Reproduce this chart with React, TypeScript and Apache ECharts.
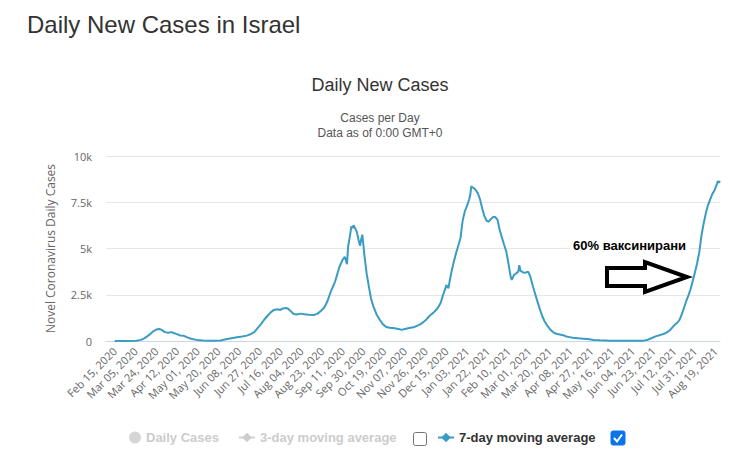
import React, { useEffect, useRef } from "react";
import * as echarts from "echarts";

// x positions are days since Feb 15, 2020 (first data day)
const PAD_DAYS = 8; // empty categories before the first data day
const LAST_DAY = 555; // Aug 23, 2021
const MONTHS = ["Jan", "Feb", "Mar", "Apr", "May", "Jun", "Jul", "Aug", "Sep", "Oct", "Nov", "Dec"];

const xTickLabels = [
  "Feb 15, 2020", "Mar 05, 2020", "Mar 24, 2020", "Apr 12, 2020", "May 01, 2020", "May 20, 2020",
  "Jun 08, 2020", "Jun 27, 2020", "Jul 16, 2020", "Aug 04, 2020", "Aug 23, 2020", "Sep 11, 2020",
  "Sep 30, 2020", "Oct 19, 2020", "Nov 07, 2020", "Nov 26, 2020", "Dec 15, 2020", "Jan 03, 2021",
  "Jan 22, 2021", "Feb 10, 2021", "Mar 01, 2021", "Mar 20, 2021", "Apr 08, 2021", "Apr 27, 2021",
  "May 16, 2021", "Jun 04, 2021", "Jun 23, 2021", "Jul 12, 2021", "Jul 31, 2021", "Aug 19, 2021",
];

const yTickValues = [0, 2500, 5000, 7500, 10000];
const yTickLabels = ["0", "2.5k", "5k", "7.5k", "10k"];

// 7-day moving average (day offset, cases)
const avgDays = [
  0, 10, 20, 24, 27, 30, 33, 36, 39, 41, 43, 46, 49, 52, 54, 57, 60, 63, 66, 70, 75, 81, 90, 97,
  102, 107, 112, 117, 121, 125, 128, 131, 134, 137, 140, 143, 146, 149, 152, 154, 157, 159, 161,
  164, 167, 170, 174, 178, 183, 186, 189, 192, 195, 198, 202, 206, 209, 211, 213, 214, 216, 217,
  218, 219, 220, 222, 224, 225, 226, 227, 228, 229, 231, 233, 235, 237, 240, 243, 246, 249, 252,
  255, 258, 261, 263, 266, 270, 274, 277, 280, 283, 286, 289, 292, 295, 297, 299, 301, 303, 304,
  305, 306, 307, 309, 311, 313, 315, 317, 319, 321, 323, 325, 326, 327, 328, 330, 333, 335, 337,
  339, 341, 343, 345, 347, 349, 351, 353, 355, 357, 359, 361, 363, 364, 366, 368, 370, 371, 372,
  374, 376, 379, 381, 383, 385, 387, 390, 392, 394, 397, 400, 403, 406, 409, 412, 414, 417, 420,
  425, 430, 435, 439, 445, 454, 465, 475, 485, 488, 492, 496, 500, 503, 506, 509, 512, 514, 516,
  518, 520, 522, 524, 526, 528, 530, 532, 534, 536, 538, 540, 542, 544, 546, 548, 550, 552, 553,
  554, 555,
];
const avgValues = [
  0, 2, 15, 60, 140, 260, 400, 550, 640, 650, 600, 480, 450, 480, 430, 370, 300, 290, 210, 120, 60,
  30, 15, 30, 90, 150, 200, 240, 290, 380, 480, 700, 900, 1150, 1350, 1550, 1680, 1720, 1680, 1760,
  1780, 1740, 1640, 1460, 1430, 1480, 1440, 1420, 1410, 1480, 1620, 1800, 2150, 2650, 3200, 4000,
  4400, 4550, 4150, 5100, 5800, 6200, 6100, 6250, 6150, 5900, 5350, 5150, 5500, 5750, 5200, 4600,
  3650, 2950, 2300, 1900, 1450, 1150, 900, 760, 720, 700, 680, 640, 600, 650, 700, 740, 820, 900,
  1020, 1180, 1380, 1520, 1700, 1860, 2080, 2480, 2800, 3020, 2950, 2850, 3200, 3800, 4300, 4750,
  5150, 5550, 6500, 7000, 7300, 7650, 7900, 8370, 8300, 8240, 7980, 7650, 7150, 6750, 6500, 6450,
  6600, 6700, 6700, 6550, 6000, 5600, 5200, 4850, 4200, 3500, 3300, 3560, 3650, 3750, 4100, 3800,
  3720, 3680, 3750, 3500, 3050, 2650, 2250, 1680, 1350, 1080, 800, 580, 430, 380, 340, 300, 240,
  210, 180, 150, 125, 90, 55, 35, 20, 15, 15, 20, 50, 150, 250, 320, 380, 450, 580, 780, 900, 1000,
  1150, 1450, 1800, 2150, 2450, 2800, 3250, 3700, 4200, 4800, 5700, 6350, 6900, 7350, 7650, 7950,
  8150, 8450, 8650, 8560, 8650,
];

const seriesNames = ["Daily Cases", "3-day moving average", "7-day moving average"];
const annotationText = "60% ваксинирани";

function fmtDate(ms: number): string {
  const d = new Date(ms);
  const day = d.getUTCDate();
  return `${MONTHS[d.getUTCMonth()]} ${day < 10 ? "0" + day : day}, ${d.getUTCFullYear()}`;
}

const START_MS = Date.UTC(2020, 1, 15) - PAD_DAYS * 86400000;
const categories: string[] = [];
for (let i = 0; i <= PAD_DAYS + LAST_DAY; i++) categories.push(fmtDate(START_MS + i * 86400000));
const tickSet = new Set(xTickLabels);

const AXIS_FONT = "'Open Sans', 'Liberation Sans', sans-serif";
const TITLE_FONT = "'Liberation Sans', Arial, sans-serif";
const LINE_COLOR = "#3a9cc0";

export default function App() {
  const ref = useRef<HTMLDivElement>(null);
  useEffect(() => {
    if (!ref.current) return;
    const chart = echarts.init(ref.current, undefined, { renderer: "svg" });
    const legendBase = {
      top: 431,
      padding: 0,
      itemHeight: 12,
      selectedMode: true,
      inactiveColor: "#cccccc",
      textStyle: { fontFamily: TITLE_FONT, fontWeight: "bold" as const, fontSize: 13, color: "#333333" },
      selected: { [seriesNames[0]]: false, [seriesNames[1]]: false, [seriesNames[2]]: true },
    };
    chart.setOption({
      animation: false,
      backgroundColor: "#ffffff",
      title: [
        {
          text: "Daily New Cases in Israel",
          left: 27,
          top: 12,
          padding: 0,
          textStyle: { fontFamily: TITLE_FONT, fontSize: 24, fontWeight: "normal", color: "#333333" },
        },
        {
          text: "Daily New Cases",
          left: 380,
          top: 76,
          padding: 0,
          textAlign: "center",
          textStyle: { fontFamily: TITLE_FONT, fontSize: 18, fontWeight: "normal", color: "#333333" },
        },
        {
          text: "Cases per Day\nData as of 0:00 GMT+0",
          left: 380,
          top: 110,
          padding: 0,
          textAlign: "center",
          textStyle: { fontFamily: TITLE_FONT, fontSize: 12, lineHeight: 15, fontWeight: "normal", color: "#555555" },
        },
      ],
      legend: [
        { ...legendBase, left: 129, itemWidth: 12, data: [{ name: seriesNames[0], icon: "circle" }] },
        { ...legendBase, left: 238, itemWidth: 16, data: [seriesNames[1]] },
        { ...legendBase, left: 437, itemWidth: 16, data: [seriesNames[2]] },
      ],
      grid: { left: 106, right: 11, top: 156, bottom: 116, containLabel: false },
      xAxis: {
        type: "category",
        data: categories,
        boundaryGap: false,
        axisLine: { lineStyle: { color: "#ccd6eb", width: 1 } },
        axisTick: { show: false },
        splitLine: { show: false },
        axisLabel: {
          rotate: 45,
          margin: 8,
          color: "#666666",
          fontSize: 11,
          fontFamily: AXIS_FONT,
          interval: (index: number, value: string) => tickSet.has(value),
        },
      },
      yAxis: {
        type: "value",
        min: yTickValues[0],
        max: yTickValues[yTickValues.length - 1],
        interval: yTickValues[1] - yTickValues[0],
        name: "Novel Coronavirus Daily Cases",
        nameLocation: "middle",
        nameRotate: 90,
        nameGap: 50,
        nameTextStyle: { color: "#666666", fontSize: 12, fontFamily: AXIS_FONT },
        axisLine: { show: false },
        axisTick: { show: false },
        splitLine: { lineStyle: { color: "#e6e6e6", width: 1 } },
        axisLabel: {
          margin: 14,
          color: "#666666",
          fontSize: 11,
          fontFamily: AXIS_FONT,
          formatter: (v: number) => yTickLabels[yTickValues.indexOf(v)] ?? "",
        },
      },
      series: [
        {
          name: seriesNames[0],
          type: "scatter",
          data: [],
          itemStyle: { color: "#999999" },
        },
        {
          name: seriesNames[1],
          type: "line",
          data: [],
          symbol: "diamond",
          symbolSize: 8,
          itemStyle: { color: "#999999" },
        },
        {
          name: seriesNames[2],
          type: "line",
          symbol: "diamond",
          symbolSize: 8,
          showSymbol: false,
          z: 2,
          itemStyle: { color: LINE_COLOR },
          lineStyle: { color: LINE_COLOR, width: 2 },
          data: avgDays.map((d, i) => [d + PAD_DAYS, avgValues[i]]),
        },
      ],
      graphic: [
        {
          type: "rect",
          z: 50,
          shape: { x: 570, y: 237, width: 120, height: 20 },
          style: { fill: "#ffffff" },
        },
        {
          type: "text",
          z: 51,
          left: 573,
          top: 239,
          style: { text: annotationText, fill: "#000000", font: `bold 13px ${TITLE_FONT}` },
        },
        {
          type: "polygon",
          z: 52,
          shape: {
            points: [
              [607, 268], [645, 268], [645, 262], [687, 277], [645, 292], [645, 286], [607, 286],
            ],
          },
          style: { fill: "#ffffff", stroke: "#000000", lineWidth: 4, lineJoin: "miter" },
        },
        {
          type: "rect",
          z: 50,
          shape: { x: 413.5, y: 432.5, width: 13, height: 13, r: 2 },
          style: { fill: "#ffffff", stroke: "#767676", lineWidth: 1 },
        },
        {
          type: "rect",
          z: 50,
          shape: { x: 611, y: 431, width: 14, height: 14, r: 2 },
          style: { fill: "#0a75e6", stroke: "#0a75e6", lineWidth: 1 },
        },
        {
          type: "polyline",
          z: 51,
          shape: { points: [[614, 438], [617, 441.5], [622, 434.5]] },
          style: { stroke: "#ffffff", lineWidth: 2, fill: "none" },
        },
      ],
    });
    return () => chart.dispose();
  }, []);
  return (
    <div
      ref={ref}
      style={{ position: "fixed", left: 0, top: 0, width: 731, height: 457, background: "#fff" }}
    />
  );
}
